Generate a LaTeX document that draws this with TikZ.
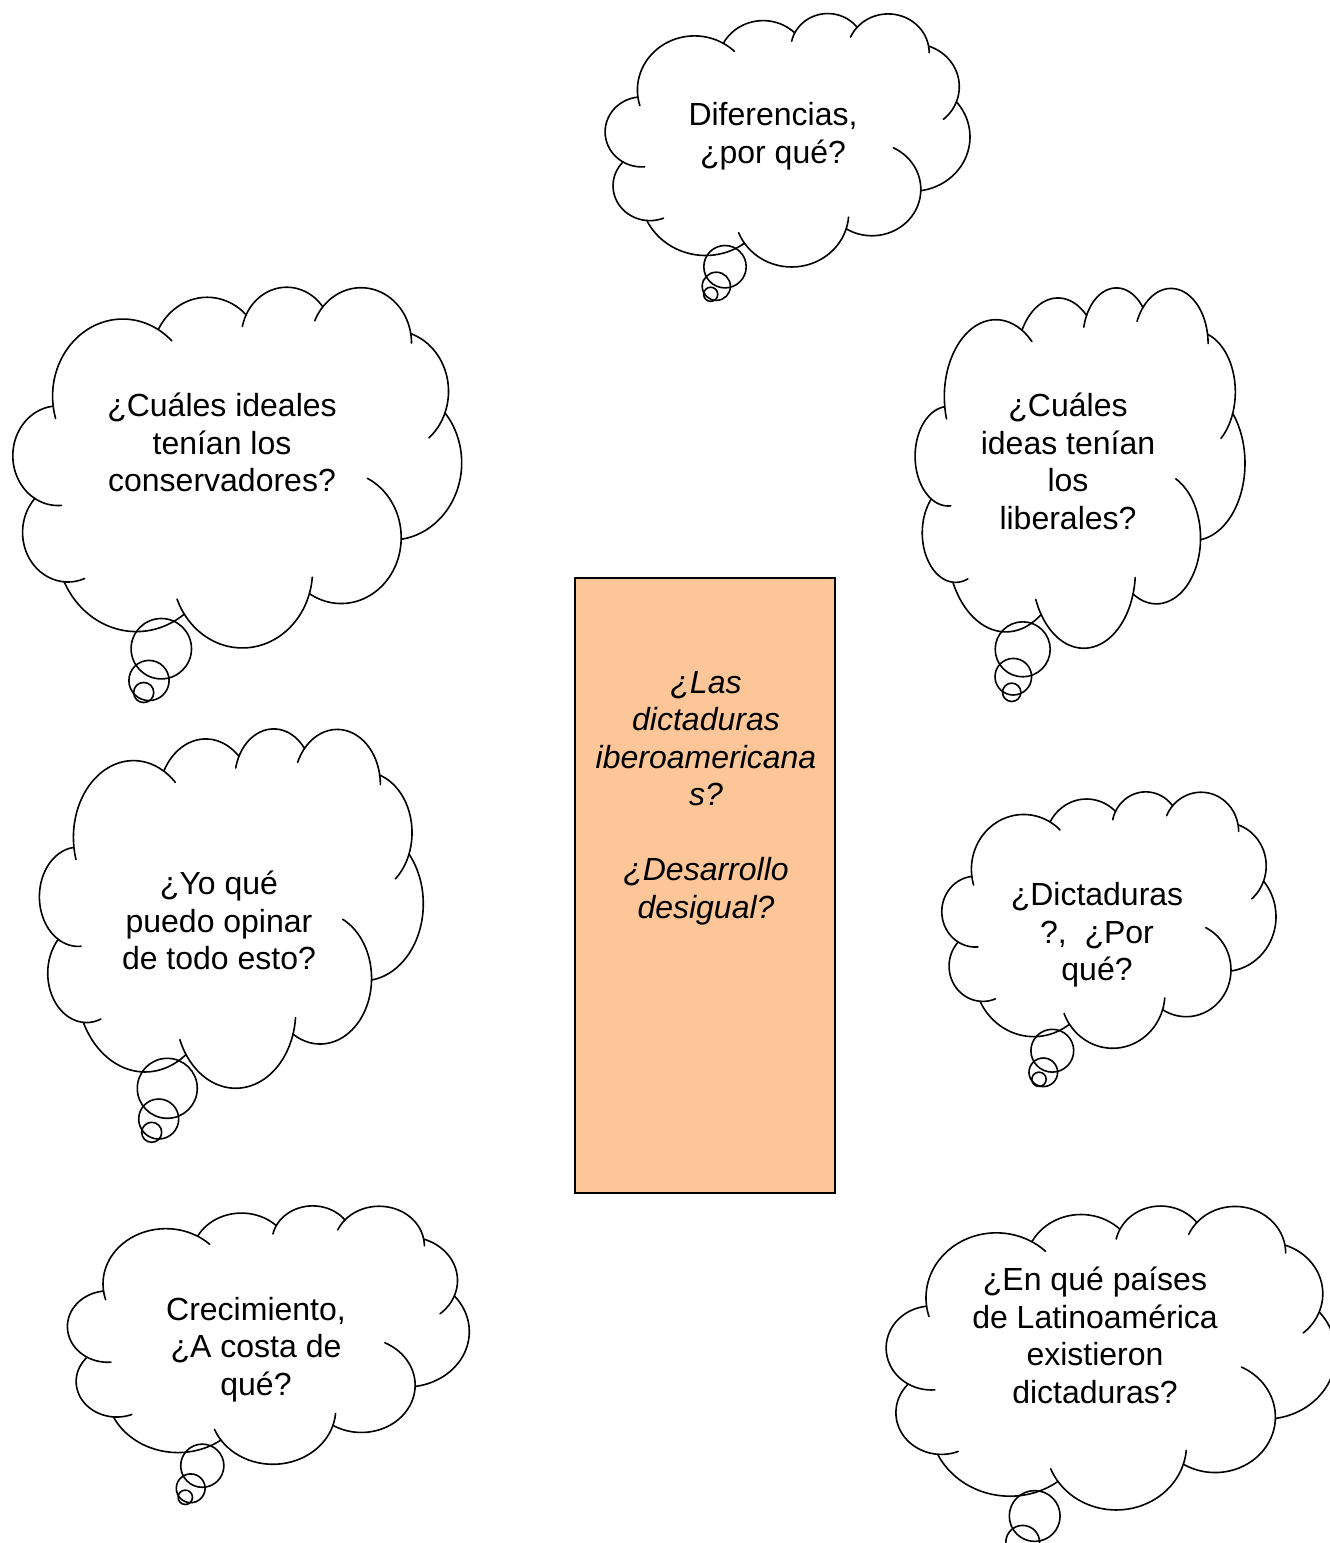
\documentclass[tikz,border=0pt]{standalone}
\usepackage{fontspec}
\setmainfont{Liberation Sans}
\definecolor{boxfill}{RGB}{252,198,152}
\tikzset{
  cloudline/.style={draw=black, line width=1.6pt, line join=round, line cap=round},
  pf/.style={variable=\t, samples=25, smooth},
  cloudtext/.style={align=center, font=\fontsize{32}{37.5}\selectfont, inner sep=0pt},
  boxtext/.style={align=center, font=\fontsize{32}{37.5}\selectfont\itshape, inner sep=0pt},
  boxshape/.style={draw=black, line width=1.5pt, fill=boxfill, inner sep=0pt},
}
% #1 left, #2 top, #3 width/100, #4 height/100  (all in px = pt)
\newcommand{\thoughtcloud}[4]{%
\begin{scope}[shift={(#1pt,-#2pt)}, x=#3pt, y=-#4pt]
\draw[cloudline]
  plot[pf, domain=-187.75:-59.63] ({24.516+15.632*cos(\t)},{30.396+21.273*sin(\t)})
  -- plot[pf, domain=-152.02:-45.43] ({43.324+12.345*cos(\t)},{19.933+16.822*sin(\t)})
  -- plot[pf, domain=-153.48:-37.33] ({61.032+10.104*cos(\t)},{14.097+13.762*sin(\t)})
  -- plot[pf, domain=-139.14:-9.77] ({77.572+11.243*cos(\t)},{15.738+15.266*sin(\t)})
  -- plot[pf, domain=-71.43:21.4] ({84.722+12.345*cos(\t)},{29.104+16.836*sin(\t)})
  -- plot[pf, domain=-40:81.8] ({84.317+15.683*cos(\t)},{48.843+21.343*sin(\t)})
  -- plot[pf, domain=0.46:121.9] ({73.137+13.391*cos(\t)},{69.505+18.211*sin(\t)})
  -- plot[pf, domain=16.84:146.23] ({51.146+15.630*cos(\t)},{78.657+21.331*sin(\t)})
  -- plot[pf, domain=53.33:153.99] ({27.546+17.870*cos(\t)},{71.065+24.405*sin(\t)})
  -- plot[pf, domain=94.22:223.3] ({12.292+10.093*cos(\t)},{68.065+13.699*sin(\t)})
  -- plot[pf, domain=120.36:263.94] ({10.083+10.058*cos(\t)},{46.875+13.762*sin(\t)})
  -- cycle;
\draw[cloudline] plot[pf, domain=85.55:120.36] ({10.083+10.058*cos(\t)},{46.875+13.762*sin(\t)});
\draw[cloudline] plot[pf, domain=68.22:94.22] ({12.292+10.093*cos(\t)},{68.065+13.699*sin(\t)});
\draw[cloudline] plot[pf, domain=146.23:158.47] ({51.146+15.630*cos(\t)},{78.657+21.331*sin(\t)});
\draw[cloudline] plot[pf, domain=4.74:16.84] ({51.146+15.630*cos(\t)},{78.657+21.331*sin(\t)});
\draw[cloudline] plot[pf, domain=-64.02:0.46] ({73.137+13.391*cos(\t)},{69.505+18.211*sin(\t)});
\draw[cloudline] plot[pf, domain=21.4:49.65] ({84.722+12.345*cos(\t)},{29.104+16.836*sin(\t)});
\draw[cloudline] plot[pf, domain=-9.77:0] ({77.572+11.243*cos(\t)},{15.738+15.266*sin(\t)});
\draw[cloudline] plot[pf, domain=-156.29:-139.14] ({77.572+11.243*cos(\t)},{15.738+15.266*sin(\t)});
\draw[cloudline] plot[pf, domain=-167.72:-153.48] ({61.032+10.104*cos(\t)},{14.097+13.762*sin(\t)});
\draw[cloudline] plot[pf, domain=-59.63:-45.73] ({24.516+15.632*cos(\t)},{30.396+21.273*sin(\t)});
\draw[cloudline] plot[pf, domain=163.19:172.25] ({24.516+15.632*cos(\t)},{30.396+21.273*sin(\t)});
\end{scope}}
% tail bubbles: big, medium, small  (x y r)
\newcommand{\tailbubbles}[9]{%
\draw[cloudline] (#1,#2) circle[radius=#3pt];
\draw[cloudline] (#4,#5) circle[radius=#6pt];
\draw[cloudline] (#7,#8) circle[radius=#9pt];}

\begin{document}
\begin{tikzpicture}[x=1pt, y=-1pt]
\useasboundingbox (0,0) rectangle (1330,1543);
\clip (0,0) rectangle (1330,1543);
\fill[white] (0,0) rectangle (1330,1543);

% A: Diferencias
\thoughtcloud{605}{12.7}{3.65}{2.543}
\tailbubbles{725}{266.7}{21.2}{716.3}{286.3}{14.1}{710.7}{294.3}{7.06}
\node[cloudtext] (tA) at (773,136.2) {Diferencias,\\¿por qué?};

% B: conservadores
\thoughtcloud{12.7}{286}{4.49}{3.62}
\tailbubbles{161.3}{648.7}{30.2}{149}{680.5}{20.1}{143.7}{692.5}{10.06}
\node[cloudtext] (tB) at (222,442.8) {¿Cuáles ideales\\tenían los\\conservadores?};

% C: liberales
\thoughtcloud{915}{286.7}{3.30}{3.616}
\tailbubbles{1022.7}{649.3}{27.5}{1013.3}{676.7}{18.3}{1011.7}{692.3}{9.2}
\node[cloudtext] (tC) at (1068,461.3) {¿Cuáles\\ideas tenían\\los\\liberales?};

% D: Yo qué
\thoughtcloud{39.3}{727.7}{3.84}{3.606}
\tailbubbles{167.3}{1088.3}{30}{158.7}{1119}{20}{151.7}{1132.3}{10}
\node[cloudtext] (tD) at (219,920.5) {¿Yo qué\\puedo opinar\\de todo esto?};

% E: Dictaduras
\thoughtcloud{941.7}{791}{3.343}{2.573}
\tailbubbles{1052.3}{1050.7}{21.4}{1043.3}{1072.3}{14.3}{1039}{1079.3}{7.15}
\node[cloudtext] (tE) at (1097,935.1) {¿Dictaduras\\?,\ \ ¿Por\\qué?};

% F: Crecimiento
\thoughtcloud{67.3}{1205}{4.02}{2.593}
\tailbubbles{202.3}{1465.7}{21.6}{190.7}{1488.3}{14.4}{185.3}{1497.3}{7.2}
\node[cloudtext] (tF) at (256,1349.6) {Crecimiento,\\¿A costa de\\qué?};

% G: En qué países
\thoughtcloud{886}{1205}{4.50}{3.05}
\tailbubbles{1034.7}{1516}{25.4}{1022.7}{1542.3}{16.9}{1016.9}{1555}{8.5}
\node[cloudtext] (tG) at (1095,1335.3) {¿En qué países\\de Latinoamérica\\existieron\\dictaduras?};

% central box
\node[boxshape, minimum width=260pt, minimum height=615pt] (box) at (705,885.5) {};
\node[boxtext] (boxlabel) at (706,797.8) {¿Las\\dictaduras\\iberoamericana\\s?\\[37.5pt]¿Desarrollo\\desigual?};
\end{tikzpicture}
\end{document}
